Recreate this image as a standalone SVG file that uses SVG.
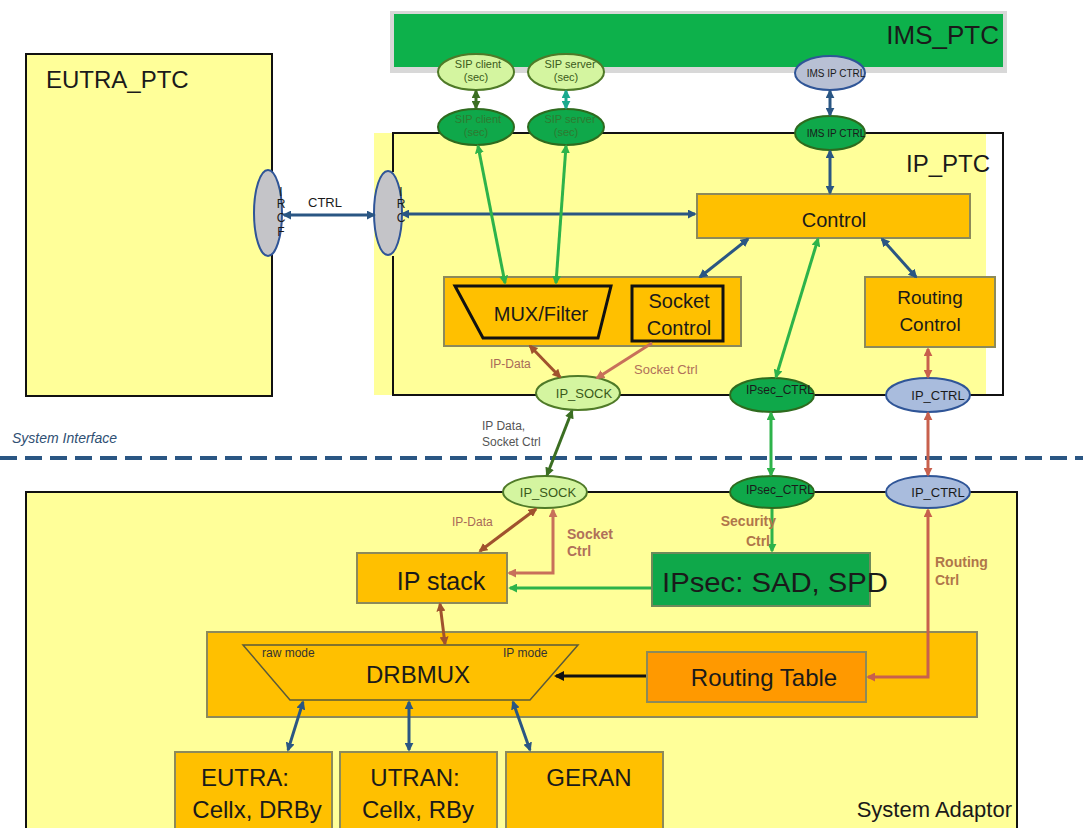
<svg xmlns="http://www.w3.org/2000/svg" width="1083" height="828" viewBox="0 0 1083 828">
<style>
text{font-family:"Liberation Sans",Arial,sans-serif;fill:#1a1a1a}
.box{fill:#FFC000;stroke:#8C8A5A;stroke-width:2}
.pale{fill:#FFFF99}
.frame{fill:none;stroke:#111;stroke-width:2}
.lg{fill:#D4F5A0;stroke:#4F7A28;stroke-width:2}
.dg{fill:#0FA84A;stroke:#2E6B1E;stroke-width:2}
.bl{fill:#A9BCDD;stroke:#2F5597;stroke-width:2}
.gr{fill:#C4C4C8;stroke:#2F5597;stroke-width:2}
.c{fill:none;stroke-width:3}
.cb{stroke:#2A5683}
.cg{stroke:#2DB34A}
.cdg{stroke:#3B6E22}
.ct{stroke:#1BAA8E}
.cbr{stroke:#A0522D}
.cs{stroke:#C8705A}
.cr{stroke:#C8604D}
.ck{stroke:#111}
.lbl{font-size:12px;fill:#A86A58}
.lbl2{font-size:14px;fill:#B0764A;font-weight:bold}
.sip{font-size:11px}
</style>
<defs>
<marker id="mb" viewBox="0 0 10 10" refX="8" refY="5" markerWidth="9" markerHeight="9" markerUnits="userSpaceOnUse" orient="auto-start-reverse"><path d="M0,0L10,5L0,10z" fill="#2A5683"/></marker>
<marker id="mg" viewBox="0 0 10 10" refX="8" refY="5" markerWidth="9" markerHeight="9" markerUnits="userSpaceOnUse" orient="auto-start-reverse"><path d="M0,0L10,5L0,10z" fill="#2DB34A"/></marker>
<marker id="mdg" viewBox="0 0 10 10" refX="8" refY="5" markerWidth="9" markerHeight="9" markerUnits="userSpaceOnUse" orient="auto-start-reverse"><path d="M0,0L10,5L0,10z" fill="#3B6E22"/></marker>
<marker id="mt" viewBox="0 0 10 10" refX="8" refY="5" markerWidth="9" markerHeight="9" markerUnits="userSpaceOnUse" orient="auto-start-reverse"><path d="M0,0L10,5L0,10z" fill="#1BAA8E"/></marker>
<marker id="mbr" viewBox="0 0 10 10" refX="8" refY="5" markerWidth="9" markerHeight="9" markerUnits="userSpaceOnUse" orient="auto-start-reverse"><path d="M0,0L10,5L0,10z" fill="#A0522D"/></marker>
<marker id="ms" viewBox="0 0 10 10" refX="8" refY="5" markerWidth="9" markerHeight="9" markerUnits="userSpaceOnUse" orient="auto-start-reverse"><path d="M0,0L10,5L0,10z" fill="#C8705A"/></marker>
<marker id="mr" viewBox="0 0 10 10" refX="8" refY="5" markerWidth="9" markerHeight="9" markerUnits="userSpaceOnUse" orient="auto-start-reverse"><path d="M0,0L10,5L0,10z" fill="#C8604D"/></marker>
<marker id="mk" viewBox="0 0 10 10" refX="8" refY="5" markerWidth="10" markerHeight="10" markerUnits="userSpaceOnUse" orient="auto-start-reverse"><path d="M0,0L10,5L0,10z" fill="#111"/></marker>
</defs>
<rect width="1083" height="828" fill="#fff"/>

<!-- containers -->
<g id="eutra_ptc">
<rect x="26" y="54" width="246" height="342" class="pale" stroke="#111" stroke-width="2"/>
<text x="46" y="88" font-size="24">EUTRA_PTC</text>
</g>
<g id="ims_ptc">
<rect x="390" y="11" width="617" height="62" fill="#D8D8D8"/>
<rect x="394" y="14" width="609" height="53" fill="#0DB14B"/>
<text x="999" y="44" font-size="26" text-anchor="end">IMS_PTC</text>
</g>
<g id="ip_ptc">
<rect x="374" y="133" width="612" height="262" class="pale"/>
<path d="M393,172V133H1003V395H393V256" class="frame"/>
<text x="990" y="172" font-size="24" text-anchor="end">IP_PTC</text>
</g>
<g id="system_interface">
<text x="12" y="443" font-size="14" font-style="italic" style="fill:#2F4F73">System Interface</text>
<line x1="0" y1="458" x2="1083" y2="458" stroke="#2A5683" stroke-width="4" stroke-dasharray="17 8"/>
</g>
<g id="system_adaptor">
<rect x="26" y="492" width="991" height="340" class="pale" stroke="#111" stroke-width="2"/>
<text x="1012" y="817" font-size="22" text-anchor="end">System Adaptor</text>
</g>

<!-- nodes -->
<g id="ircf_left">
<ellipse cx="268" cy="213" rx="14" ry="43" class="gr"/>
<text x="281" y="196" font-size="12" text-anchor="middle">I</text>
<text x="281" y="208" font-size="12" text-anchor="middle">R</text>
<text x="281" y="222" font-size="12" text-anchor="middle">C</text>
<text x="281" y="236" font-size="12" text-anchor="middle">F</text>
</g>
<g id="ircf_right">
<ellipse cx="388" cy="213" rx="14" ry="42" class="gr"/>
<text x="401" y="196" font-size="12" text-anchor="middle">I</text>
<text x="401" y="208" font-size="12" text-anchor="middle">R</text>
<text x="401" y="222" font-size="12" text-anchor="middle">C</text>
</g>
<g id="sip_client_ims">
<ellipse cx="476" cy="72" rx="38" ry="18" class="lg"/>
<text x="478" y="68" class="sip" text-anchor="middle" style="fill:#3a5a1a">SIP client</text>
<text x="476" y="81" class="sip" text-anchor="middle" style="fill:#3a5a1a">(sec)</text>
</g>
<g id="sip_server_ims">
<ellipse cx="566" cy="72" rx="38" ry="18" class="lg"/>
<text x="570" y="68" class="sip" text-anchor="middle" style="fill:#3a5a1a">SIP server</text>
<text x="566" y="81" class="sip" text-anchor="middle" style="fill:#3a5a1a">(sec)</text>
</g>
<g id="ims_ip_ctrl_ims">
<ellipse cx="830" cy="73" rx="35" ry="17" class="bl" style="fill:#B8C0D4"/>
<text x="836" y="77" font-size="10" text-anchor="middle">IMS IP CTRL</text>
</g>
<g id="sip_client_ip">
<ellipse cx="476" cy="127" rx="38" ry="18" class="dg"/>
<text x="478" y="123" class="sip" text-anchor="middle" style="fill:#2e7a30">SIP client</text>
<text x="476" y="136" class="sip" text-anchor="middle" style="fill:#2e7a30">(sec)</text>
</g>
<g id="sip_server_ip">
<ellipse cx="566" cy="127" rx="38" ry="18" class="dg"/>
<text x="570" y="123" class="sip" text-anchor="middle" style="fill:#2e7a30">SIP server</text>
<text x="566" y="136" class="sip" text-anchor="middle" style="fill:#2e7a30">(sec)</text>
</g>
<g id="ims_ip_ctrl_ip">
<ellipse cx="830" cy="133" rx="35" ry="17" class="dg"/>
<text x="836" y="137" font-size="10" text-anchor="middle">IMS IP CTRL</text>
</g>
<g id="control">
<rect x="697" y="194" width="273" height="44" class="box"/>
<text x="834" y="227" font-size="20" text-anchor="middle">Control</text>
</g>
<g id="mux_socket">
<rect x="444" y="277" width="297" height="69" class="box"/>
<path d="M455,286H611L598,338H483Z" fill="none" stroke="#111" stroke-width="3"/>
<text x="541" y="321" font-size="20" text-anchor="middle">MUX/Filter</text>
<rect x="632" y="286" width="91" height="55" fill="none" stroke="#111" stroke-width="3"/>
<text x="679" y="308" font-size="20" text-anchor="middle">Socket</text>
<text x="679" y="335" font-size="20" text-anchor="middle">Control</text>
</g>
<g id="routing_control">
<rect x="865" y="277" width="130" height="70" class="box"/>
<text x="930" y="304" font-size="19" text-anchor="middle">Routing</text>
<text x="930" y="331" font-size="19" text-anchor="middle">Control</text>
</g>
<g id="ip_sock_ptc">
<ellipse cx="578" cy="393" rx="42" ry="17" class="lg"/>
<text x="584" y="398" font-size="13" text-anchor="middle" style="fill:#3a5a1a">IP_SOCK</text>
</g>
<g id="ipsec_ctrl_ptc">
<ellipse cx="772" cy="395" rx="42" ry="17" class="dg"/>
<text x="780" y="394" font-size="12" text-anchor="middle">IPsec_CTRL</text>
</g>
<g id="ip_ctrl_ptc">
<ellipse cx="928" cy="395" rx="42" ry="17" class="bl"/>
<text x="938" y="400" font-size="13" text-anchor="middle">IP_CTRL</text>
</g>
<g id="ip_sock_sa">
<ellipse cx="545" cy="492" rx="42" ry="16" class="lg"/>
<text x="548" y="497" font-size="13" text-anchor="middle" style="fill:#3a5a1a">IP_SOCK</text>
</g>
<g id="ipsec_ctrl_sa">
<ellipse cx="772" cy="492" rx="42" ry="16" class="dg"/>
<text x="780" y="494" font-size="12" text-anchor="middle">IPsec_CTRL</text>
</g>
<g id="ip_ctrl_sa">
<ellipse cx="928" cy="492" rx="42" ry="16" class="bl"/>
<text x="938" y="497" font-size="13" text-anchor="middle">IP_CTRL</text>
</g>
<g id="ip_stack">
<rect x="357" y="553" width="150" height="50" class="box"/>
<text x="441" y="590" font-size="25" text-anchor="middle">IP stack</text>
</g>
<g id="ipsec">
<rect x="652" y="553" width="218" height="53" fill="#0FA84A" stroke="#6E8A5A" stroke-width="2"/>
<text x="662" y="592" font-size="28" textLength="226" lengthAdjust="spacingAndGlyphs">IPsec: SAD, SPD</text>
</g>
<g id="drb_mux">
<rect x="207" y="632" width="770" height="85" class="box"/>
<path d="M243,645H578L530,700H290Z" fill="none" stroke="#5A5A3A" stroke-width="1.5"/>
<text x="262" y="657" font-size="12" style="fill:#333">raw mode</text>
<text x="503" y="657" font-size="12" style="fill:#333">IP mode</text>
<text x="418" y="683" font-size="24" text-anchor="middle">DRBMUX</text>
</g>
<g id="routing_table">
<rect x="647" y="652" width="219" height="50" fill="#FF9900" stroke="#8C8A5A" stroke-width="2"/>
<text x="764" y="686" font-size="24" text-anchor="middle">Routing Table</text>
</g>
<g id="eutra">
<rect x="175" y="752" width="157" height="80" class="box"/>
<text x="245" y="786" font-size="24" text-anchor="middle">EUTRA:</text>
<text x="257" y="818" font-size="24" text-anchor="middle">Cellx, DRBy</text>
</g>
<g id="utran">
<rect x="340" y="752" width="157" height="80" class="box"/>
<text x="415" y="786" font-size="24" text-anchor="middle">UTRAN:</text>
<text x="418" y="818" font-size="24" text-anchor="middle">Cellx, RBy</text>
</g>
<g id="geran">
<rect x="506" y="752" width="157" height="80" class="box"/>
<text x="589" y="786" font-size="24" text-anchor="middle">GERAN</text>
</g>

<!-- connectors -->
<g id="connectors">
<line x1="284" y1="215" x2="374" y2="215" class="c cb" marker-start="url(#mb)" marker-end="url(#mb)"/>
<text x="308" y="207" font-size="13">CTRL</text>
<line x1="402" y1="214" x2="695" y2="214" class="c cb" marker-start="url(#mb)" marker-end="url(#mb)"/>
<line x1="476" y1="91" x2="476" y2="108" class="c cdg" marker-start="url(#mdg)" marker-end="url(#mdg)"/>
<line x1="566" y1="91" x2="566" y2="108" class="c ct" marker-start="url(#mt)" marker-end="url(#mt)"/>
<line x1="830" y1="91" x2="830" y2="115" class="c cb" marker-start="url(#mb)" marker-end="url(#mb)"/>
<line x1="830" y1="151" x2="830" y2="193" class="c cb" marker-start="url(#mb)" marker-end="url(#mb)"/>
<line x1="478" y1="146" x2="505" y2="283" class="c cg" marker-start="url(#mg)" marker-end="url(#mg)"/>
<line x1="566" y1="146" x2="556" y2="283" class="c cg" marker-start="url(#mg)" marker-end="url(#mg)"/>
<line x1="748" y1="239" x2="700" y2="277" class="c cb" marker-start="url(#mb)" marker-end="url(#mb)"/>
<line x1="882" y1="239" x2="916" y2="277" class="c cb" marker-start="url(#mb)" marker-end="url(#mb)"/>
<line x1="818" y1="239" x2="776" y2="377" class="c cg" marker-start="url(#mg)" marker-end="url(#mg)"/>
<line x1="530" y1="346" x2="560" y2="377" class="c cbr" marker-start="url(#mbr)" marker-end="url(#mbr)"/>
<text x="490" y="368" class="lbl">IP-Data</text>
<line x1="652" y1="343" x2="597" y2="378" class="c cs" marker-end="url(#ms)"/>
<text x="634" y="374" font-size="13" style="fill:#B0705A">Socket Ctrl</text>
<line x1="928" y1="349" x2="928" y2="377" class="c cr" marker-start="url(#mr)" marker-end="url(#mr)"/>
<line x1="572" y1="411" x2="547" y2="475" class="c cdg" marker-start="url(#mdg)" marker-end="url(#mdg)"/>
<text x="482" y="430" font-size="12" style="fill:#555">IP Data,</text>
<text x="482" y="446" font-size="12" style="fill:#555">Socket Ctrl</text>
<line x1="771" y1="413" x2="771" y2="475" class="c cg" marker-start="url(#mg)" marker-end="url(#mg)"/>
<line x1="928" y1="413" x2="928" y2="475" class="c cr" marker-start="url(#mr)" marker-end="url(#mr)"/>
<line x1="536" y1="509" x2="480" y2="551" class="c cbr" marker-start="url(#mbr)" marker-end="url(#mbr)"/>
<text x="452" y="526" class="lbl">IP-Data</text>
<polyline points="509,573 553,573 553,510" class="c cs" marker-start="url(#ms)" marker-end="url(#ms)"/>
<text x="567" y="539" class="lbl2" style="fill:#B0705A">Socket</text>
<text x="567" y="556" class="lbl2" style="fill:#B0705A">Ctrl</text>
<line x1="651" y1="588" x2="510" y2="588" class="c cg" marker-end="url(#mg)"/>
<line x1="772" y1="509" x2="772" y2="551" class="c cg" marker-end="url(#mg)"/>
<text x="776" y="526" class="lbl2" text-anchor="end">Security</text>
<text x="770" y="546" class="lbl2" text-anchor="end">Ctrl</text>
<polyline points="868,677 928,677 928,510" class="c cr" marker-start="url(#mr)" marker-end="url(#mr)"/>
<text x="935" y="567" class="lbl2">Routing</text>
<text x="935" y="585" class="lbl2">Ctrl</text>
<line x1="440" y1="604" x2="445" y2="644" class="c cbr" marker-start="url(#mbr)" marker-end="url(#mbr)"/>
<line x1="646" y1="676" x2="556" y2="676" class="c ck" marker-end="url(#mk)"/>
<line x1="303" y1="702" x2="288" y2="750" class="c cb" marker-start="url(#mb)" marker-end="url(#mb)"/>
<line x1="409" y1="702" x2="409" y2="750" class="c cb" marker-start="url(#mb)" marker-end="url(#mb)"/>
<line x1="513" y1="702" x2="530" y2="750" class="c cb" marker-start="url(#mb)" marker-end="url(#mb)"/>
</g>
</svg>
